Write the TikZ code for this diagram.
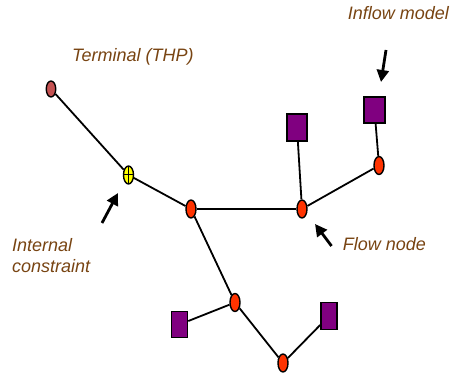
\documentclass[tikz,border=0pt]{standalone}
\usepackage{fontspec}
\setmainfont{Liberation Sans}
\usetikzlibrary{shapes.geometric,arrows.meta}

\definecolor{labelbrown}{RGB}{120,68,18}
\definecolor{flowred}{RGB}{255,51,0}
\definecolor{termred}{RGB}{196,82,82}
\definecolor{inflowpurple}{RGB}{128,0,128}
\definecolor{constyellow}{RGB}{255,255,0}

\tikzset{
  x=1pt, y=1pt,
  link/.style={line width=1.8pt, black},
  pointer/.style={line width=2.8pt, black, -{Triangle[length=12pt,width=12pt]}},
  flownode/.style={ellipse, draw=black, line width=1.4pt, fill=flowred,
    inner sep=0pt, minimum width=10pt, minimum height=18pt},
  terminalnode/.style={flownode, fill=termred, minimum width=9.5pt, minimum height=16pt},
  constraintnode/.style={flownode, fill=constyellow,
    path picture={
      \draw[line width=1pt] (path picture bounding box.north) -- (path picture bounding box.south);
      \draw[line width=1pt] (path picture bounding box.west) -- (path picture bounding box.east);
    }},
  inflowbox/.style={rectangle, draw=black, line width=1.6pt, fill=inflowpurple, inner sep=0pt},
  note/.style={text=labelbrown, font=\itshape\fontsize{18}{21.4}\selectfont, inner sep=0pt}
}

\begin{document}
\begin{tikzpicture}
  \useasboundingbox (0,0) rectangle (452,377);

  % network nodes
  \node[terminalnode]   (term) at (51,288) {};
  \node[constraintnode] (cons) at (128.5,202) {};
  \node[flownode] (a) at (191,168) {};
  \node[flownode] (b) at (302,168) {};
  \node[flownode] (c) at (379,211.5) {};
  \node[flownode] (d) at (235,74.5) {};
  \node[flownode] (e) at (283,14) {};

  % inflow models
  \node[inflowbox, minimum width=20pt, minimum height=27pt] (rb) at (297,249.5) {};
  \node[inflowbox, minimum width=21pt, minimum height=26pt] (rc) at (374.5,267) {};
  \node[inflowbox, minimum width=16pt, minimum height=26pt] (rl) at (179.5,52.5) {};
  \node[inflowbox, minimum width=16pt, minimum height=27pt] (rr) at (329,61) {};

  % connections
  \draw[link] (term) -- (cons);
  \draw[link] (cons) -- (a);
  \draw[link] (a) -- (b);
  \draw[link] (b) -- (rb);
  \draw[link] (b) -- (c);
  \draw[link] (c) -- (rc);
  \draw[link] (a) -- (d);
  \draw[link] (d) -- (rl);
  \draw[link] (d) -- (e);
  \draw[link] (e) -- (rr);

  % labels
  \node[note, anchor=base west] (lterm) at (72,315.3) {Terminal (THP)};
  \node[note, anchor=base east] (linflow) at (449,357) {Inflow model};
  \node[note, anchor=base west] (lflow) at (342.7,126) {Flow node};
  \node[note, anchor=north west, align=left] (lcons) at (12,139) {Internal\\constraint};

  % pointers
  \coordinate (pcons) at (102,154);
  \coordinate (pcons') at (118,184);
  \coordinate (pinflow) at (386,327);
  \coordinate (pinflow') at (381,295);
  \coordinate (pflow) at (331.5,131);
  \coordinate (pflow') at (315,153);
  \draw[pointer] (pcons) -- (pcons');
  \draw[pointer] (pinflow) -- (pinflow');
  \draw[pointer] (pflow) -- (pflow');
\end{tikzpicture}
\end{document}
